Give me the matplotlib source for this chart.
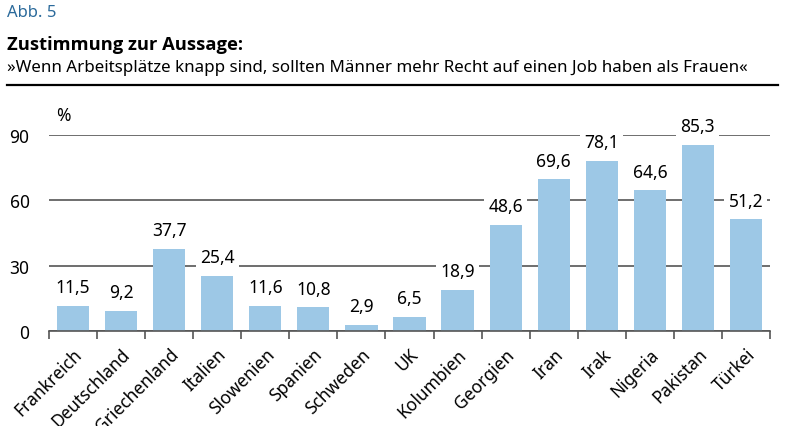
import matplotlib.pyplot as plt
import numpy as np

plt.rcParams['font.family'] = ['Noto Sans', 'DejaVu Sans']

laender = ['Frankreich', 'Deutschland', 'Griechenland', 'Italien', 'Slowenien',
           'Spanien', 'Schweden', 'UK', 'Kolumbien', 'Georgien', 'Iran', 'Irak',
           'Nigeria', 'Pakistan', 'Türkei']
werte = [11.5, 9.2, 37.7, 25.4, 11.6, 10.8, 2.9, 6.5, 18.9, 48.6, 69.6, 78.1,
         64.6, 85.3, 51.2]
y_ticks = [0, 30, 60, 90]

bar_color = '#9dc8e6'
grid_color = '#555555'

fig = plt.figure(figsize=(7.95, 4.27), dpi=100)

# header
fig.text(7 / 795, 1 - 13 / 427, 'Abb. 5', color='#2b6a9b', fontsize=12, va='center')
fig.text(7 / 795, 1 - 45 / 427, 'Zustimmung zur Aussage:', fontsize=13.2,
         fontweight='bold', family=['Open Sans', 'DejaVu Sans'], va='center')
fig.text(7 / 795, 1 - 68 / 427,
         '»Wenn Arbeitsplätze knapp sind, sollten Männer mehr Recht auf einen Job haben als Frauen«',
         fontsize=12.2, va='center')
fig.add_artist(plt.Line2D([7 / 795, 778 / 795], [1 - 86 / 427, 1 - 86 / 427],
                          color='black', lw=1.6))

ax = fig.add_axes([49 / 795, 1 - 332 / 427, 721 / 795, 196 / 427])
x = np.arange(len(laender))
ax.set_axisbelow(True)
ax.bar(x, werte, width=0.67, color=bar_color, zorder=2)
ax.set_xlim(-0.5, len(laender) - 0.5)
ax.set_ylim(0, 90)

ax.set_yticks(y_ticks)
ax.set_yticklabels([str(t) for t in y_ticks], fontsize=12.5)
ax.yaxis.grid(True, color=grid_color, lw=1.2)
ax.tick_params(axis='y', length=0, pad=14)

# ticks between categories, labels at category centres
ax.set_xticks(np.arange(len(laender) + 1) - 0.5)
ax.set_xticklabels([])
ax.set_xticks(x, minor=True)
ax.set_xticklabels(laender, minor=True, rotation=45, ha='right',
                   rotation_mode='anchor', fontsize=12.5)
ax.tick_params(axis='x', which='major', length=6, color=grid_color, width=1.2)
ax.tick_params(axis='x', which='minor', length=0, pad=10)

for s in ['top', 'right', 'left']:
    ax.spines[s].set_visible(False)
ax.spines['bottom'].set_color(grid_color)
ax.spines['bottom'].set_linewidth(1.2)

for xi, v in zip(x, werte):
    ax.text(xi, v + 4.5, f'{v:.1f}'.replace('.', ','), ha='center', va='bottom',
            fontsize=12.5, zorder=3,
            bbox=dict(facecolor='white', edgecolor='none', pad=3))

ax.text(0.01, 1.1, '%', transform=ax.transAxes, fontsize=12.5, va='center')

fig.savefig('out.png', dpi=100)
